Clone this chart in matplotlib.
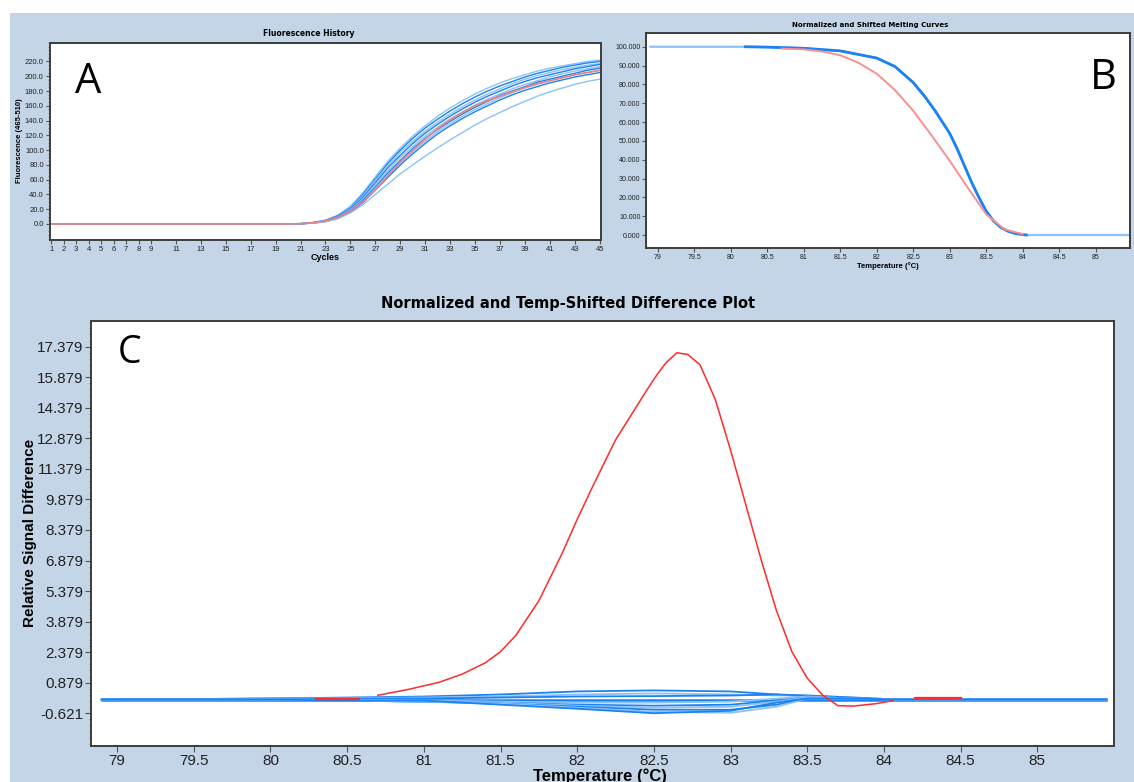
import numpy as np
import matplotlib
matplotlib.use("Agg")
import matplotlib.pyplot as plt
from matplotlib.patches import Rectangle
from matplotlib.ticker import FixedLocator, AutoMinorLocator, FormatStrFormatter

plt.rcParams['font.family'] = ['Liberation Sans Narrow', 'Liberation Sans', 'DejaVu Sans']

W, H = 1134, 782

# ---- Panel A: Fluorescence History ----
cycles_a = [1, 20, 21, 22, 23, 24, 25, 26, 27, 28, 29, 30, 31, 32, 33, 34, 35, 36,
            37, 38, 39, 40, 41, 42, 43, 44, 45]
fluor_blue = [
    [0, 0, 0.5, 2.0, 5.0, 12, 24, 42, 64, 85, 103, 119, 133, 146, 157, 167, 176, 184, 191, 197, 202, 207, 211, 214, 217, 220, 222],
    [0, 0, 0.5, 2.0, 5.0, 11, 22, 40, 61, 82, 100, 116, 130, 142, 153, 163, 172, 180, 187, 193, 199, 204, 208, 212, 215, 218, 220],
    [0, 0, 0.4, 1.8, 4.5, 10, 21, 38, 59, 79, 97, 112, 126, 138, 149, 159, 168, 176, 183, 190, 196, 201, 205, 209, 212, 215, 217],
    [0, 0, 0.4, 1.6, 4.2, 10, 20, 36, 56, 76, 93, 109, 123, 135, 146, 156, 165, 173, 180, 187, 193, 198, 202, 206, 210, 213, 216],
    [0, 0, 0.4, 1.5, 4.0, 9, 19, 34, 53, 72, 90, 105, 119, 131, 142, 152, 161, 169, 176, 183, 189, 194, 199, 203, 207, 210, 213],
    [0, 0, 0.3, 1.4, 3.8, 9, 18, 32, 50, 69, 86, 102, 116, 128, 139, 149, 158, 166, 174, 180, 186, 192, 196, 200, 204, 208, 211],
    [0, 0, 0.3, 1.3, 3.5, 8, 17, 30, 48, 66, 83, 98, 112, 125, 136, 146, 155, 163, 171, 178, 184, 189, 194, 198, 202, 205, 208],
    [0, 0, 0.3, 1.2, 3.3, 8, 16, 29, 46, 63, 80, 95, 109, 122, 133, 143, 152, 160, 168, 175, 181, 186, 191, 195, 199, 202, 205],
    [0, 0, 0.3, 1.0, 3.0, 7, 15, 26, 40, 54, 68, 80, 92, 103, 114, 124, 134, 143, 151, 159, 166, 173, 179, 184, 189, 193, 196],
]
fluor_red = [0, 0, 0.5, 1.5, 4.0, 9, 18, 30, 46, 65, 84, 100, 115, 129, 141, 151, 160, 167, 173, 179, 185, 190, 194, 198, 202, 205, 208]
xticks_a = [1, 2, 3, 4, 5, 6, 7, 8, 9, 11, 13, 15, 17, 19, 21, 23, 25, 27, 29, 31,
            33, 35, 37, 39, 41, 43, 45]
yticks_a = [0, 20, 40, 60, 80, 100, 120, 140, 160, 180, 200, 220]

# ---- Panel B: Normalized and Shifted Melting Curves ----
temp_b_blue = [78.9, 80.2, 80.5, 81.0, 81.5, 82.0, 82.25, 82.5, 82.65, 82.8, 82.9, 83.0,
               83.1, 83.2, 83.3, 83.4, 83.5, 83.6, 83.7, 83.8, 83.9, 84.05, 85.45]
melt_blue = [100, 100, 99.8, 99.2, 97.8, 94.0, 89.5, 81.0, 74.0, 66.0, 60.0, 54.0,
             46.0, 37.0, 28.0, 20.0, 12.7, 7.5, 4.0, 2.0, 0.8, 0.0, 0.0]
temp_b_red = [80.7, 81.0, 81.25, 81.5, 81.75, 82.0, 82.25, 82.5, 82.75, 83.0, 83.25,
              83.5, 83.75, 84.0]
melt_red = [99.0, 98.6, 97.5, 95.5, 91.5, 85.7, 77.0, 66.0, 53.0, 39.4, 25.0, 11.0, 3.0, 0.5]
xticks_b = [79, 79.5, 80, 80.5, 81, 81.5, 82, 82.5, 83, 83.5, 84, 84.5, 85]
xticklabels_b = ['79', '79.5', '80', '80.5', '81', '81.5', '82', '82.5', '83', '83.5',
                 '84', '84.5', '85']
yticks_b = [0, 10, 20, 30, 40, 50, 60, 70, 80, 90, 100]

# ---- Panel C: Difference plot ----
temp_c_red = [80.70, 80.90, 81.10, 81.25, 81.40, 81.50, 81.60, 81.75, 81.90, 82.00,
              82.10, 82.25, 82.35, 82.45, 82.52, 82.58, 82.65, 82.72, 82.80, 82.90,
              83.00, 83.10, 83.20, 83.30, 83.40, 83.50, 83.60, 83.70, 83.80, 83.95, 84.06]
diff_red = [0.26, 0.55, 0.90, 1.30, 1.85, 2.40, 3.20, 4.90, 7.20, 8.90,
            10.5, 12.8, 14.0, 15.2, 16.0, 16.6, 17.08, 17.0, 16.5, 14.8,
            12.3, 9.6, 6.9, 4.4, 2.4, 1.1, 0.27, -0.25, -0.27, -0.15, 0.0]
temp_c_red_flat1 = [80.30, 80.58]
diff_red_flat1 = [0.1, 0.1]
temp_c_red_flat2 = [84.20, 84.50]
diff_red_flat2 = [0.13, 0.13]

temp_c_blue = [78.9, 80.0, 80.5, 81.0, 81.5, 82.0, 82.5, 83.0, 83.3, 83.5, 83.8, 84.1, 85.45]
diff_blue = [
    [0.05, 0.10, 0.15, 0.20, 0.30, 0.45, 0.50, 0.45, 0.30, 0.20, 0.10, 0.05, 0.05],
    [0.05, 0.10, 0.12, 0.15, 0.20, 0.30, 0.35, 0.30, 0.25, 0.25, 0.15, 0.05, 0.05],
    [0.05, 0.10, 0.10, 0.10, 0.15, 0.20, 0.22, 0.25, 0.30, 0.25, 0.15, 0.05, 0.05],
    [0.05, 0.05, 0.05, 0.00, -0.05, -0.10, -0.10, -0.05, 0.10, 0.20, 0.10, 0.05, 0.05],
    [0.05, 0.05, 0.00, -0.05, -0.10, -0.20, -0.25, -0.20, 0.00, 0.15, 0.10, 0.05, 0.05],
    [0.05, 0.05, 0.00, -0.05, -0.10, -0.25, -0.35, -0.30, -0.05, 0.15, 0.10, 0.05, 0.05],
    [0.05, 0.05, 0.00, -0.05, -0.15, -0.30, -0.45, -0.45, -0.20, 0.10, 0.10, 0.05, 0.05],
    [0.05, 0.05, 0.00, -0.05, -0.15, -0.35, -0.55, -0.60, -0.30, 0.10, 0.10, 0.05, 0.05],
    [0.05, 0.05, 0.00, 0.00, -0.20, -0.40, -0.62, -0.50, -0.10, 0.10, 0.10, 0.05, 0.05],
]
yticks_c = [-0.621, 0.879, 2.379, 3.879, 5.379, 6.879, 8.379, 9.879, 11.379, 12.879,
            14.379, 15.879, 17.379]
xticks_c = xticks_b
xticklabels_c = xticklabels_b

BG = '#c3d5e6'
LIGHT = '#8cc2f7'
MID = '#1a82f2'
SPINE = '#3c3c3c'


def px(x, y):
    return x / W, 1 - y / H


def ax_rect(l, t, r, b):
    return [l / W, 1 - b / H, (r - l) / W, (b - t) / H]


def style_axes(ax, fs, pad=1.5):
    for s in ax.spines.values():
        s.set_color(SPINE)
        s.set_linewidth(1.4)
    ax.tick_params(direction='out', length=3, width=0.8, color='#555555',
                   labelsize=fs, labelcolor='#222222', pad=pad)
    ax.tick_params(which='minor', length=1.5, width=0.6, color='#777777')


fig = plt.figure(figsize=(W / 100, H / 100), dpi=100)
fig.patch.set_facecolor('white')
fig.add_artist(Rectangle(px(10, 782), (W - 10) / W, (782 - 13) / H,
                         transform=fig.transFigure, facecolor=BG, edgecolor='none', zorder=0))

# Panel A
axa = fig.add_axes(ax_rect(50, 43, 601, 240))
style_axes(axa, 5.5)
for i, ys in enumerate(fluor_blue):
    axa.plot(cycles_a, ys, color=LIGHT if i % 2 == 0 else MID, lw=1.0)
axa.plot(cycles_a, fluor_red, color='#f08080', lw=1.2)
axa.set_xlim(0.9, 45.1)
axa.set_ylim(-21.7, 245)
axa.set_xticks(xticks_a)
axa.set_yticks(yticks_a)
axa.yaxis.set_major_formatter(FormatStrFormatter('%.1f'))
axa.yaxis.set_minor_locator(AutoMinorLocator(4))
fig.text(*px(309, 33), 'Fluorescence History', ha='center', va='center',
         fontsize=5.5, fontweight='bold', family='DejaVu Sans')
fig.text(*px(325, 257), 'Cycles', ha='center', va='center', fontsize=6.5, fontweight='bold')
fig.text(*px(20, 141), 'Fluorescence (465-510)', ha='center', va='center', rotation=90,
         fontsize=5.5, fontweight='bold')
fig.text(*px(88, 82), 'A', ha='center', va='center', fontsize=30, family='Open Sans')

# Panel B
axb = fig.add_axes(ax_rect(646, 33, 1130, 248))
style_axes(axb, 5, pad=1)
axb.plot(temp_b_blue, melt_blue, color=LIGHT, lw=1.6)
axb.plot(temp_b_blue[1:-1], melt_blue[1:-1], color=MID, lw=2.0)
axb.plot(temp_b_red, melt_red, color='#f89090', lw=1.4)
axb.set_xlim(78.84, 85.47)
axb.set_ylim(-6.9, 107.3)
axb.set_xticks(xticks_b)
axb.set_xticklabels(xticklabels_b)
axb.set_yticks(yticks_b)
axb.yaxis.set_major_formatter(FormatStrFormatter('%.3f'))
fig.text(*px(870, 25), 'Normalized and Shifted Melting Curves', ha='center', va='center',
         fontsize=5, fontweight='bold', family='DejaVu Sans')
fig.text(*px(888, 266), 'Temperature (°C)', ha='center', va='center', fontsize=5.5,
         fontweight='bold')
fig.text(*px(1103, 78), 'B', ha='center', va='center', fontsize=30, family='Open Sans')

# Panel C
axc = fig.add_axes(ax_rect(91, 321, 1114, 746))
style_axes(axc, 11)
axc.tick_params(length=4)
axc.plot(temp_c_blue, [0.05] * len(temp_c_blue), color=MID, lw=1.8)
for i, ys in enumerate(diff_blue):
    axc.plot(temp_c_blue, ys, color=LIGHT if i % 2 else MID, lw=1.3)
axc.plot(temp_c_red, diff_red, color='#ff2a2a', lw=1.1)
axc.plot(temp_c_red_flat1, diff_red_flat1, color='#ff2a2a', lw=1.6)
axc.plot(temp_c_red_flat2, diff_red_flat2, color='#ff2a2a', lw=1.6)
axc.set_xlim(78.83, 85.5)
axc.set_ylim(-2.23, 18.64)
axc.set_xticks(xticks_c)
axc.set_xticklabels(xticklabels_c)
axc.yaxis.set_major_locator(FixedLocator(yticks_c))
axc.set_yticklabels(['%.3f' % v for v in yticks_c])
axc.yaxis.set_minor_locator(AutoMinorLocator(5))
fig.text(*px(568, 303), 'Normalized and Temp-Shifted Difference Plot', ha='center',
         va='center', fontsize=10.5, fontweight='bold', family='DejaVu Sans')
fig.text(*px(600, 776), 'Temperature (°C)', ha='center', va='center', fontsize=12,
         fontweight='bold')
fig.text(*px(30, 533), 'Relative Signal Difference', ha='center', va='center',
         rotation=90, fontsize=11, fontweight='bold')
fig.text(*px(130, 353), 'C', ha='center', va='center', fontsize=27, family='Open Sans')

fig.savefig('out.png', dpi=100)
